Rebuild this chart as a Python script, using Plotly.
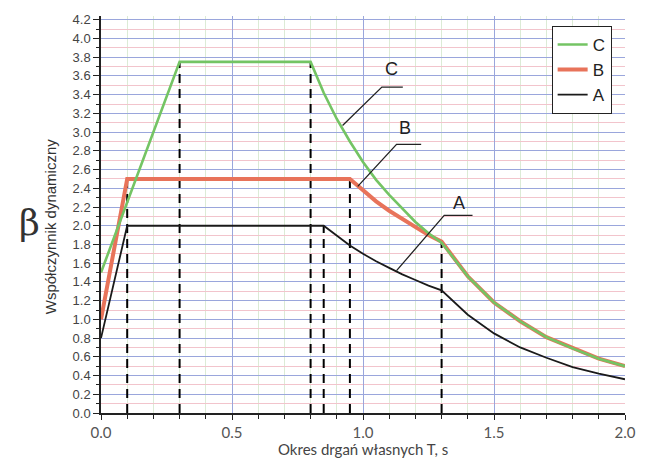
import plotly.graph_objects as go

# ---- data ----
T_A = [0.0, 0.1, 0.85, 0.9, 0.95, 1.0, 1.05, 1.1, 1.15, 1.2, 1.25, 1.3, 1.4, 1.5, 1.6, 1.7, 1.8, 1.9, 2.0]
beta_A = [0.8, 2.0, 2.0, 1.89, 1.79, 1.70, 1.62, 1.55, 1.48, 1.42, 1.36, 1.31, 1.05, 0.85, 0.70, 0.59, 0.49, 0.42, 0.36]

T_B = [0.0, 0.1, 0.95, 1.0, 1.05, 1.1, 1.15, 1.2, 1.25, 1.3, 1.4, 1.5, 1.6, 1.7, 1.8, 1.9, 2.0]
beta_B = [1.0, 2.5, 2.5, 2.38, 2.26, 2.16, 2.07, 1.98, 1.90, 1.83, 1.46, 1.18, 0.98, 0.81, 0.69, 0.58, 0.50]

T_C = [0.0, 0.3, 0.8, 0.85, 0.9, 0.95, 1.0, 1.05, 1.1, 1.15, 1.2, 1.25, 1.3, 1.4, 1.5, 1.6, 1.7, 1.8, 1.9, 2.0]
beta_C = [1.5, 3.75, 3.75, 3.42, 3.14, 2.90, 2.68, 2.49, 2.33, 2.18, 2.04, 1.92, 1.82, 1.46, 1.18, 0.98, 0.81, 0.69, 0.58, 0.50]

# dashed vertical markers: period and height
dash_T = [0.1, 0.3, 0.8, 0.85, 0.95, 1.3]
dash_top = [2.5, 3.75, 3.75, 2.0, 2.5, 1.82]

series_names = ["A", "B", "C"]

x_title = "Okres drgań własnych T, s"
y_title = "Współczynnik dynamiczny"

# ---- figure ----
fig = go.Figure()

# dashed lines
dx, dy = [], []
for t, h in zip(dash_T, dash_top):
    dx += [t, t, None]
    dy += [0, h, None]
fig.add_trace(go.Scatter(x=dx, y=dy, mode="lines", showlegend=False, hoverinfo="skip",
                         line=dict(color="black", width=2, dash="9px,6px")))

fig.add_trace(go.Scatter(x=T_A, y=beta_A, mode="lines", name=series_names[0],
                         line=dict(color="#1a1a1a", width=1.8)))
fig.add_trace(go.Scatter(x=T_B, y=beta_B, mode="lines", name=series_names[1],
                         line=dict(color="#e8735a", width=4)))
fig.add_trace(go.Scatter(x=T_C, y=beta_C, mode="lines", name=series_names[2],
                         line=dict(color="#74c464", width=2.6)))

# leader lines for labels
leaders = [
    ([0.922, 1.072, 1.152], [3.07, 3.48, 3.48]),
    ([0.98, 1.128, 1.222], [2.42, 2.87, 2.87]),
    ([1.128, 1.31, 1.418], [1.52, 2.11, 2.11]),
]
for lx, ly in leaders:
    fig.add_trace(go.Scatter(x=lx, y=ly, mode="lines", showlegend=False, hoverinfo="skip",
                             line=dict(color="#222", width=1.3)))

label_pos = [("C", 1.11, 3.67), ("B", 1.16, 3.04), ("A", 1.366, 2.24)]
for txt, lx, ly in label_pos:
    fig.add_annotation(x=lx, y=ly, text=txt, showarrow=False,
                       font=dict(family="Liberation Sans, Arial", size=18, color="#222"))

fig.add_annotation(xref="paper", yref="paper", x=-0.0957, y=0.47, text=y_title,
                   textangle=-90, showarrow=False, xanchor="center", yanchor="middle",
                   font=dict(family="Liberation Sans, Arial", size=15, color="#333"))
fig.add_annotation(xref="paper", yref="paper", x=-0.137, y=0.48, text="β",
                   showarrow=False, xanchor="center", yanchor="middle",
                   font=dict(family="DejaVu Serif, Liberation Serif", size=36, color="#333"))
fig.add_annotation(xref="paper", yref="paper", x=0.5, y=-0.064, text=x_title,
                   showarrow=False, xanchor="center", yanchor="top",
                   font=dict(family="Lato, Open Sans", size=15, color="#444"))

fig.update_layout(
    width=648, height=466,
    margin=dict(l=101, r=14, t=15, b=53),
    paper_bgcolor="white", plot_bgcolor="white",
    legend=dict(x=0.86, y=0.975, xanchor="left", yanchor="top",
                traceorder="reversed", bgcolor="white",
                bordercolor="#222", borderwidth=1,
                font=dict(family="Liberation Sans, Arial", size=17, color="#222"),
                itemwidth=30, tracegroupgap=0),
)

fig.update_xaxes(
    range=[0, 2.0], dtick=0.5, tick0=0, tickformat=".1f",
    showline=True, linecolor="#222", linewidth=1.5,
    ticks="outside", ticklen=5, tickcolor="#222", tickwidth=1.3,
    showgrid=True, gridcolor="#9aa6dc", gridwidth=1,
    minor=dict(dtick=0.1, tick0=0, ticks="outside", ticklen=4, tickcolor="#222",
               showgrid=True, gridcolor="#dcebd6", gridwidth=1),
    tickfont=dict(family="Lato, Open Sans", size=15, color="#555"),
    zeroline=False,
)
fig.update_yaxes(
    range=[0, 4.24], dtick=0.2, tick0=0, tickformat=".1f",
    showline=True, linecolor="#222", linewidth=1.5,
    ticks="outside", ticklen=6, tickcolor="#222", tickwidth=1.3,
    showgrid=True, gridcolor="#9aa6dc", gridwidth=1,
    minor=dict(dtick=0.1, tick0=0, ticks="outside", ticklen=3, tickcolor="#222",
               showgrid=True, gridcolor="#f2c4cc", gridwidth=1),
    tickfont=dict(family="Liberation Sans, Arial", size=13, color="#444"),
    zeroline=False,
)

fig.write_html("out.html", config={"displayModeBar": False},
               post_script="document.body.style.margin='0';document.body.style.overflow='hidden';")
